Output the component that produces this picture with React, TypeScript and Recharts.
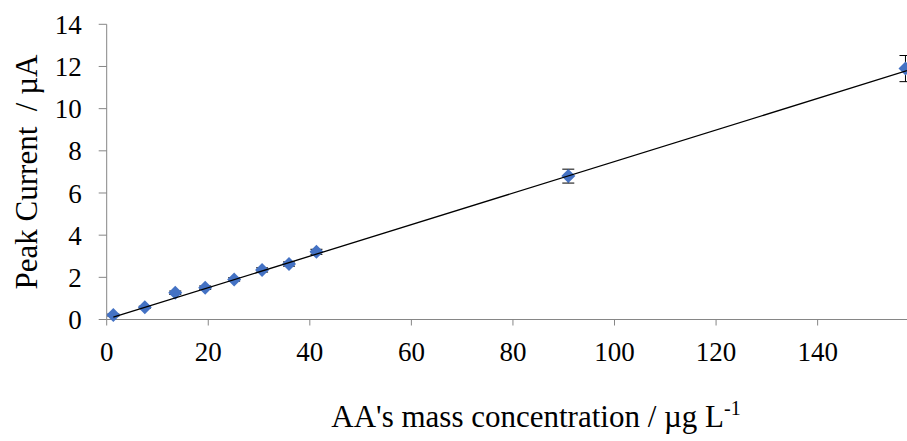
import React from 'react';
import { ComposedChart, Scatter, XAxis, YAxis, ErrorBar } from 'recharts';

const concentrations = [1.3, 7.5, 13.5, 19.4, 25.1, 30.6, 35.9, 41.3, 90.9, 157.3];
const currents = [0.21, 0.58, 1.27, 1.51, 1.9, 2.35, 2.63, 3.21, 6.8, 11.9];
const errors = [0.05, 0.05, 0.08, 0.08, 0.08, 0.1, 0.1, 0.12, 0.33, 0.62];
const trendX = [1.3, 157.6];
const trendY = [0.11, 11.8];
const xTicks = [0, 20, 40, 60, 80, 100, 120, 140];
const yTicks = [0, 2, 4, 6, 8, 10, 12, 14];

const points = concentrations.map((x, i) => ({ x, y: currents[i], err: errors[i] }));
const trend = trendX.map((x, i) => ({ x, y: trendY[i] }));

const FONT = 'Times New Roman, Liberation Serif, DejaVu Serif, serif';
const AXIS = '#868686';

const Diamond = (props: any) => {
  const { cx, cy } = props;
  const r = 7;
  return (
    <polygon
      points={`${cx},${cy - r} ${cx + r},${cy} ${cx},${cy + r} ${cx - r},${cy}`}
      fill="#4472C4"
    />
  );
};

const Nothing = () => <g />;

const renderXTick = (props: any) => {
  const { x, y, payload } = props;
  return (
    <text
      key={`xt-${payload.value}`}
      x={x}
      y={y}
      dy="0.71em"
      textAnchor="middle"
      fill="#000"
      fontFamily={FONT}
      fontSize={27}
    >
      {payload.value}
    </text>
  );
};

const renderYTick = (props: any) => {
  const { x, y, payload } = props;
  return (
    <text
      key={`yt-${payload.value}`}
      x={x}
      y={y}
      dy="0.355em"
      textAnchor="end"
      fill="#000"
      fontFamily={FONT}
      fontSize={27}
    >
      {payload.value}
    </text>
  );
};

export default function App() {
  return (
    <div style={{ position: 'fixed', left: 0, top: 0, width: 907, height: 441, overflow: 'hidden', background: '#fff', fontFamily: FONT }}>
      <ComposedChart
        width={907}
        height={441}
        margin={{ top: 24.3, right: 0, left: 0, bottom: 0 }}
      >
        <XAxis
          type="number"
          dataKey="x"
          domain={[0, 157.6]}
          ticks={xTicks}
          allowDataOverflow
          height={121.5}
          axisLine={{ stroke: AXIS, strokeWidth: 1 }}
          tickLine={{ stroke: AXIS }}
          tickSize={6}
          tickMargin={16}
          tick={renderXTick}
          label={{
            content: () => (
              <text x={536} y={427} textAnchor="middle" fill="#000" fontFamily={FONT} fontSize={31}>
                AA's mass concentration / µg L
                <tspan dy={-12} fontSize={20}>-1</tspan>
              </text>
            ),
          }}
        />
        <YAxis
          type="number"
          dataKey="y"
          domain={[0, 14]}
          ticks={yTicks}
          width={106.7}
          axisLine={{ stroke: AXIS, strokeWidth: 1 }}
          tickLine={{ stroke: AXIS }}
          tickSize={8}
          tickMargin={17}
          tick={renderYTick}
          label={{
            content: () => (
              <text
                x={37}
                y={172}
                transform="rotate(-90 37 172)"
                textAnchor="middle"
                fill="#000"
                fontFamily={FONT}
                fontSize={31}
                style={{ whiteSpace: 'pre' }}
              >
                {'Peak Current  / µA'}
              </text>
            ),
          }}
        />
        <Scatter data={points} shape={Diamond} isAnimationActive={false}>
          <ErrorBar dataKey="err" direction="y" width={6} stroke="#000" strokeWidth={1} />
        </Scatter>
        <Scatter
          data={trend}
          line={{ stroke: '#000', strokeWidth: 1.3 }}
          shape={Nothing}
          isAnimationActive={false}
        />
      </ComposedChart>
    </div>
  );
}
